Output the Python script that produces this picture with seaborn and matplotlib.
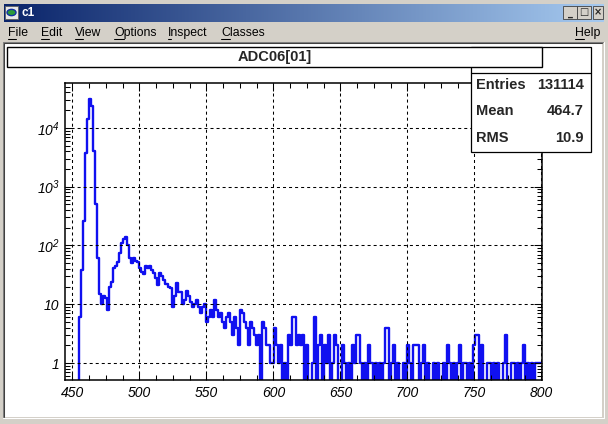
import numpy as np
import pandas as pd
import matplotlib
matplotlib.use("Agg")
import matplotlib.pyplot as plt
import seaborn as sns
from matplotlib.patches import Rectangle, Circle
from matplotlib.lines import Line2D
from matplotlib.colors import LinearSegmentedColormap
from matplotlib.ticker import MultipleLocator, LogLocator, NullFormatter

# ADC06[01] histogram, bins of 1.5 channels starting at 444.5
first_edge = 444.5
bin_width = 1.5

# 444.5 - 470
counts_peak = [0, 0, 0, 0, 0, 0, 0, 6, 38, 260,
               3800, 14000, 31000, 24000, 4100, 500, 60]
# 470 - 530
counts_shoulder = [15, 10, 14, 13, 8, 20, 24, 42, 44, 52,
                   75, 110, 130, 140, 100, 60, 50, 60, 55, 52,
                   41, 36, 33, 44, 42, 44, 38, 34, 28, 21,
                   34, 30, 26, 22, 20, 19, 9, 14, 23, 16]
# 530 - 620
counts_tail_530 = [16, 10, 12, 17, 14, 11, 9, 10, 12, 9,
                   7, 9, 10, 5, 6, 8, 6, 12, 8, 6,
                   7, 5, 4, 6, 7, 5, 3, 6, 4, 2,
                   8, 7, 5, 4, 2, 5, 4, 3, 2, 3,
                   0, 5, 4, 2, 2, 1, 1, 4, 2, 1,
                   2, 0, 1, 0, 3, 2, 6, 6, 2, 3]
# 620 - 710
counts_tail_620 = [2, 3, 0, 2, 0, 0, 1, 6, 0, 2,
                   3, 0, 2, 1, 3, 0, 1, 3, 2, 0,
                   0, 2, 1, 0, 1, 0, 2, 1, 3, 3,
                   1, 0, 1, 0, 2, 1, 0, 1, 0, 1,
                   0, 1, 4, 4, 0, 1, 2, 0, 1, 0,
                   0, 1, 0, 2, 1, 0, 2, 2, 2, 0]
# 710 - 800
counts_tail_710 = [1, 2, 0, 1, 0, 0, 1, 0, 1, 0,
                   0, 1, 0, 2, 1, 0, 1, 0, 1, 2,
                   0, 1, 1, 0, 1, 0, 2, 3, 3, 0,
                   2, 0, 0, 1, 1, 0, 1, 0, 1, 0,
                   0, 1, 3, 0, 0, 1, 1, 0, 1, 0,
                   1, 2, 0, 1, 0, 1, 0, 1, 1, 1]

x_ticks = [450, 500, 550, 600, 650, 700, 750, 800]
y_ticks = [1, 10, 100, 1000, 10000]
y_tick_labels = ['1', '10', '$10^{2}$', '$10^{3}$', '$10^{4}$']

hist_title = 'ADC06[01]'
stats_names = ['Entries', 'Mean', 'RMS']
stats_values = ['131114', '464.7', '10.9']

W, H = 608, 424
GRAY = '#d4d0c8'

sns.set_style("ticks")
plt.rcParams['font.family'] = ['Liberation Sans', 'DejaVu Sans']
plt.rcParams['mathtext.fontset'] = 'custom'
plt.rcParams['mathtext.rm'] = 'Liberation Sans:italic'
plt.rcParams['mathtext.it'] = 'Liberation Sans:italic'
plt.rcParams['mathtext.default'] = 'it'

fig = plt.figure(figsize=(W / 100, H / 100), dpi=100, facecolor=GRAY)


def px_rect(x0, y0, x1, y1, **kw):
    fig.add_artist(Rectangle((x0 / W, 1 - y1 / H), (x1 - x0) / W, (y1 - y0) / H,
                             transform=fig.transFigure, **kw))


def px_line(xs, ys, **kw):
    fig.add_artist(Line2D([x / W for x in xs], [1 - y / H for y in ys],
                          transform=fig.transFigure, **kw))


def px_text(x, y, s, **kw):
    return fig.text(x / W, 1 - y / H, s, **kw)


# window title bar
bar = fig.add_axes([4 / W, 1 - 22 / H, 600 / W, 18 / H])
w2k = LinearSegmentedColormap.from_list('w2k', ['#0a246a', '#a6caf0'])
bar.imshow(np.linspace(0, 1, 256)[None, :], cmap=w2k, aspect='auto', extent=(0, 1, 0, 1))
bar.set_axis_off()
px_rect(5, 6, 18, 19, facecolor='#e8e8e8', edgecolor='#606060', lw=0.6, zorder=2)
fig.add_artist(Circle((11.5 / W, 1 - 12.5 / H), 4.5 / W, transform=fig.transFigure,
                      facecolor='#2a9a3a', edgecolor='#1030a0', lw=1, zorder=3))
px_text(22, 13, 'c1', color='white', fontsize=8.5, fontweight='bold', va='center', zorder=4)
for bx0, bx1, glyph in [(563, 577, '_'), (577, 591, '□'), (593, 603, '×')]:
    px_rect(bx0, 6, bx1, 19, facecolor=GRAY, edgecolor='#404040', lw=0.6, zorder=2)
    px_text((bx0 + bx1) / 2, 12.5, glyph, fontsize=7, fontweight='bold', ha='center',
            va='center', family=['DejaVu Sans'], zorder=4)

# menu bar
renderer = fig.canvas.get_renderer()
for mx, item in [(8, 'File'), (41, 'Edit'), (75, 'View'), (114, 'Options'),
                 (168, 'Inspect'), (221, 'Classes'), (575, 'Help')]:
    px_text(mx, 33, item, fontsize=8.8, va='center', color='black')
    probe = px_text(mx, 33, item[0], fontsize=8.8, va='center', alpha=0)
    lw_px = probe.get_window_extent(renderer).width
    px_line([mx, mx + lw_px], [38.5, 38.5], color='black', lw=0.75)

# white canvas with sunken border
px_rect(5, 43, 602, 417, facecolor='white', edgecolor='none', zorder=-1)
px_line([3, 3, 603], [417, 42, 42], color='#808080', lw=0.75)
px_line([4, 4, 602], [417, 43, 43], color='#404040', lw=0.75)
px_line([3, 604, 604], [418, 418, 42], color='white', lw=0.75)

# pad frame
ax = fig.add_axes([65 / W, 1 - 380 / H, (542 - 65) / W, (380 - 83) / H])
ax.set_facecolor('white')

counts = np.array(counts_peak + counts_shoulder + counts_tail_530
                  + counts_tail_620 + counts_tail_710, dtype=float)
edges = first_edge + bin_width * np.arange(len(counts) + 1)
hist_df = pd.DataFrame({'adc': edges[:-1] + bin_width / 2, 'n': counts})

sns.histplot(data=hist_df, x='adc', weights='n', bins=list(edges), element='step',
             fill=False, color='#1010f0', linewidth=1.7, ax=ax)
ax.set_yscale('log')
ax.set_xlim(444.5, 800.5)
ax.set_ylim(0.514, 58000)

ax.set_xticks(x_ticks, [str(v) for v in x_ticks], fontstyle='italic', fontsize=10)
ax.set_yticks(y_ticks, y_tick_labels, fontstyle='italic', fontsize=10)
ax.xaxis.set_minor_locator(MultipleLocator(12.5))
ax.yaxis.set_minor_locator(LogLocator(base=10, subs=np.arange(2, 10), numticks=20))
ax.yaxis.set_minor_formatter(NullFormatter())
ax.tick_params(which='both', direction='in', top=True, right=True, width=0.75,
               color='black', labelcolor='black')
ax.tick_params(which='major', length=6, pad=4)
ax.tick_params(which='minor', length=3.5)
ax.grid(True, which='major', color='black', linestyle=(0, (2.9, 2.9)), linewidth=0.75)
ax.set_axisbelow(False)
for sp in ax.spines.values():
    sp.set_linewidth(1.1)
    sp.set_color('black')
ax.set_xlabel('')
ax.set_ylabel('')

# stats box (its name row is hidden by the title box)
px_rect(471, 47, 591, 152, facecolor='white', edgecolor='black', lw=0.9, zorder=5)
px_line([471, 591], [73, 73], color='black', lw=0.9, zorder=6)
for row_y, name, value in zip([85, 111, 138], stats_names, stats_values):
    px_text(476, row_y, name, fontsize=10.5, fontweight='bold', va='center', zorder=7)
    px_text(584, row_y, value, fontsize=10.5, fontweight='bold', va='center', ha='right', zorder=7)

# title box
px_rect(7, 47, 542, 67, facecolor='white', edgecolor='black', lw=1.0, zorder=8)
px_text(274.5, 57.5, hist_title, fontsize=10.5, fontweight='bold', ha='center',
        va='center', zorder=9)

fig.savefig('out.png', dpi=100, facecolor=GRAY)
